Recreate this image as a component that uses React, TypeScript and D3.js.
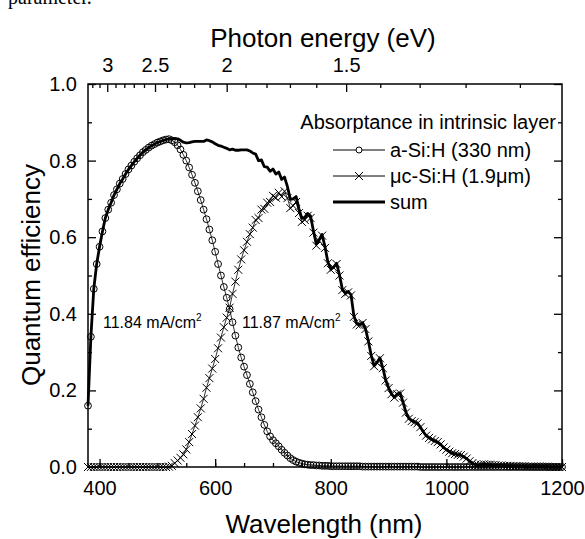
import React, { useEffect, useRef } from 'react';
import * as d3 from 'd3';

// wavelength grid of the measurement (nm)
const wavelengths = d3.range(380, 1201, 5);

// absorptance in the intrinsic layer, a-Si:H (330 nm)
const aSiQE = [
  0.16, 0.34, 0.465, 0.53, 0.575, 0.615, 0.65, 0.672, 0.69, 0.71,
  0.725, 0.74, 0.752, 0.765, 0.777, 0.787, 0.797, 0.806, 0.814, 0.822,
  0.828, 0.834, 0.839, 0.843, 0.847, 0.85, 0.853, 0.855, 0.856, 0.853,
  0.848, 0.84, 0.829, 0.815, 0.8, 0.782, 0.763, 0.742, 0.72, 0.697,
  0.672, 0.647, 0.62, 0.592, 0.562, 0.53, 0.5, 0.47, 0.442, 0.412,
  0.378, 0.343, 0.312, 0.286, 0.262, 0.24, 0.217, 0.195, 0.172, 0.15,
  0.13, 0.11, 0.093, 0.08, 0.07, 0.062, 0.054, 0.045, 0.037, 0.03,
  0.023, 0.018, 0.014, 0.011, 0.009, 0.007, 0.006, 0.005, 0.005, 0.004,
  0.004, 0.003, 0.003, 0.003, 0.002, 0.002, 0.002, 0.002, 0.002, 0.002,
  0.002, 0.002, 0.002, 0.002, 0.002, 0.001, 0.001, 0.001, 0.001, 0.001,
  0.001, 0.001, 0.001, 0.001, 0.001, 0.001, 0.001, 0.001, 0.001, 0.001,
  0.001, 0.001, 0.001, 0.001, 0.001, 0, 0, 0, 0, 0,
  0, 0, 0, 0, 0, 0, 0, 0, 0, 0,
  0, 0, 0, 0, 0, 0, 0, 0, 0, 0,
  0, 0, 0, 0, 0, 0, 0, 0, 0, 0,
  0, 0, 0, 0, 0, 0, 0, 0, 0, 0,
  0, 0, 0, 0, 0,
];

// absorptance in the intrinsic layer, uc-Si:H (1.9 um)
const ucSiQE = [
  0, 0, 0, 0, 0, 0, 0, 0, 0, 0,
  0, 0, 0, 0, 0, 0, 0, 0, 0, 0,
  0, 0, 0, 0, 0, 0, 0, 0, 0.001, 0.003,
  0.01, 0.017, 0.024, 0.033, 0.046, 0.065, 0.086, 0.108, 0.13, 0.153,
  0.178, 0.207, 0.232, 0.257, 0.282, 0.31, 0.338, 0.365, 0.39, 0.416,
  0.452, 0.484, 0.515, 0.542, 0.566, 0.588, 0.608, 0.625, 0.645, 0.65,
  0.672, 0.674, 0.69, 0.692, 0.708, 0.703, 0.716, 0.706, 0.72, 0.702,
  0.676, 0.682, 0.692, 0.663, 0.64, 0.645, 0.656, 0.65, 0.612, 0.578,
  0.59, 0.604, 0.572, 0.532, 0.515, 0.52, 0.53, 0.5, 0.462, 0.452,
  0.456, 0.448, 0.392, 0.372, 0.37, 0.376, 0.36, 0.328, 0.29, 0.263,
  0.272, 0.284, 0.258, 0.226, 0.206, 0.19, 0.181, 0.19, 0.192, 0.168,
  0.142, 0.126, 0.12, 0.117, 0.114, 0.104, 0.092, 0.082, 0.076, 0.072,
  0.068, 0.065, 0.059, 0.051, 0.045, 0.04, 0.036, 0.034, 0.032, 0.031,
  0.027, 0.022, 0.015, 0.01, 0.006, 0.005, 0.006, 0.007, 0.006, 0.006,
  0.005, 0.005, 0.004, 0.004, 0.003, 0.003, 0.003, 0.002, 0.002, 0.002,
  0.002, 0.002, 0.001, 0.001, 0.001, 0.001, 0.001, 0.001, 0.001, 0.001,
  0, 0, 0, 0, 0,
];

// the sum curve is the two layers added
const sumQE = aSiQE.map((v, i) => v + ucSiQE[i]);

const wlLabels = [400, 600, 800, 1000, 1200];
const qeLabels = [0, 0.2, 0.4, 0.6, 0.8, 1.0];
const evLabels = [3, 2.5, 2, 1.5];
const evMinor = [3.2, 3.1, 2.9, 2.8, 2.7, 2.6, 2.4, 2.3, 2.2, 2.1, 1.9, 1.8, 1.7, 1.6, 1.4, 1.3, 1.2, 1.1];

const legendTitle = 'Absorptance in intrinsic layer';
const seriesNames = ['a-Si:H (330 nm)', 'μc-Si:H (1.9μm)', 'sum'];
const currents = ['11.84 mA/cm', '11.87 mA/cm'];

const FONT = '"Liberation Sans", Arial, sans-serif';

function QEChart() {
  const ref = useRef<SVGSVGElement>(null);

  function drawChart() {
    const svg = d3.select(ref.current);
    svg.selectAll('*').remove();

    const margin = { top: 84, right: 23, bottom: 72, left: 88 },
      W = 585, H = 539,
      width = W - margin.left - margin.right,
      height = H - margin.top - margin.bottom;

    // stray text from the page above the figure
    svg.append('text')
      .attr('x', 8).attr('y', 4)
      .style('font-family', '"Liberation Serif", "Times New Roman", serif')
      .style('font-size', '20px')
      .text('parameter.');

    const g = svg.append('g').attr('transform', `translate(${margin.left},${margin.top})`);

    const x = d3.scaleLinear().domain([380, 1200]).range([0, width]);
    const y = d3.scaleLinear().domain([0, 1]).range([height, 0]);

    const styleAxis = (sel: any) => {
      sel.select('.domain').remove();
      sel.selectAll('line').attr('stroke', '#000').attr('stroke-width', 1.3);
      sel.selectAll('text').style('font-family', FONT).style('font-size', '20px').attr('fill', '#000');
    };

    // bottom axis
    g.append('g').attr('transform', `translate(0,${height})`)
      .call(d3.axisBottom(x).tickValues(d3.range(400, 1201, 50)).tickSize(-4).tickFormat(() => ''))
      .call(styleAxis);
    g.append('g').attr('transform', `translate(0,${height})`)
      .call(d3.axisBottom(x).tickValues(wlLabels).tickSize(-8).tickPadding(14).tickFormat(d3.format('d')))
      .call(styleAxis);

    // left + right axes
    const yMinor = d3.range(0.1, 1, 0.2);
    g.append('g')
      .call(d3.axisLeft(y).tickValues(yMinor).tickSize(-4).tickFormat(() => ''))
      .call(styleAxis);
    g.append('g')
      .call(d3.axisLeft(y).tickValues(qeLabels).tickSize(-8).tickPadding(11).tickFormat(d3.format('.1f')))
      .call(styleAxis);
    g.append('g').attr('transform', `translate(${width},0)`)
      .call(d3.axisRight(y).tickValues(yMinor).tickSize(-4).tickFormat(() => ''))
      .call(styleAxis);
    g.append('g').attr('transform', `translate(${width},0)`)
      .call(d3.axisRight(y).tickValues(qeLabels).tickSize(-8).tickFormat(() => ''))
      .call(styleAxis);

    // top axis in photon energy
    const ev = d3.scaleLinear().domain([380, 1200]).range([0, width]);
    g.append('g')
      .call(d3.axisTop(ev).tickValues(evMinor.map(e => 1239.84 / e)).tickSize(-4).tickFormat(() => ''))
      .call(styleAxis);
    g.append('g')
      .call(d3.axisTop(ev).tickValues(evLabels.map(e => 1239.84 / e)).tickSize(-8).tickPadding(12)
        .tickFormat((d: any) => String(+(1239.84 / d).toFixed(1))))
      .call(styleAxis);

    // frame
    g.append('rect')
      .attr('width', width).attr('height', height)
      .attr('fill', 'none').attr('stroke', '#000').attr('stroke-width', 1.5);

    const line = d3.line<number>()
      .x((d, i) => x(wavelengths[i]))
      .y(d => y(d));

    // sum
    g.append('path').datum(sumQE)
      .attr('d', line).attr('fill', 'none')
      .attr('stroke', '#000').attr('stroke-width', 2.8).attr('stroke-linejoin', 'round');

    // a-Si:H
    g.append('path').datum(aSiQE)
      .attr('d', line).attr('fill', 'none')
      .attr('stroke', '#000').attr('stroke-width', 0.8);
    g.append('g').selectAll('circle').data(aSiQE).join('circle')
      .attr('cx', (d, i) => x(wavelengths[i]))
      .attr('cy', d => y(d))
      .attr('r', 3.4)
      .attr('fill', 'none').attr('stroke', '#000').attr('stroke-width', 1);

    // uc-Si:H
    g.append('path').datum(ucSiQE)
      .attr('d', line).attr('fill', 'none')
      .attr('stroke', '#000').attr('stroke-width', 0.8);
    const cross = 'M-4,-4L4,4M-4,4L4,-4';
    g.append('g').selectAll('path').data(ucSiQE).join('path')
      .attr('transform', (d, i) => `translate(${x(wavelengths[i])},${y(d)})`)
      .attr('d', cross)
      .attr('stroke', '#000').attr('stroke-width', 1);

    // legend
    const lg = svg.append('g').style('font-family', FONT).style('font-size', '20px');
    lg.append('text').attr('x', 556).attr('y', 129).attr('text-anchor', 'end').text(legendTitle);
    const rows = [157, 183, 209];
    rows.forEach((ry, i) => {
      const cy = ry - 7;
      lg.append('line').attr('x1', 333).attr('x2', 385).attr('y1', cy).attr('y2', cy)
        .attr('stroke', '#000').attr('stroke-width', i === 2 ? 3 : 1);
      if (i === 0) {
        lg.append('circle').attr('cx', 359).attr('cy', cy).attr('r', 3)
          .attr('fill', '#fff').attr('stroke', '#000').attr('stroke-width', 1);
      }
      if (i === 1) {
        lg.append('path').attr('transform', `translate(359,${cy})`).attr('d', cross)
          .attr('stroke', '#000').attr('stroke-width', 1);
      }
      lg.append('text').attr('x', 390).attr('y', ry).text(seriesNames[i]);
    });

    // integrated currents
    const ann = svg.append('g').style('font-family', FONT).style('font-size', '16px');
    [[103, 328], [242, 328]].forEach(([ax, ay], i) => {
      const t = ann.append('text').attr('x', ax).attr('y', ay);
      t.append('tspan').text(currents[i]);
      t.append('tspan').attr('dy', -7).style('font-size', '10px').text('2');
    });

    // axis titles
    const titles = svg.append('g').style('font-family', FONT).style('font-size', '26px');
    titles.append('text').attr('x', 323).attr('y', 47).attr('text-anchor', 'middle').text('Photon energy (eV)');
    titles.append('text').attr('x', 324).attr('y', 533).attr('text-anchor', 'middle').text('Wavelength (nm)');
    titles.append('text').attr('transform', 'translate(40,275) rotate(-90)')
      .attr('text-anchor', 'middle').text('Quantum efficiency');
  }

  useEffect(() => {
    drawChart();
  }, []);

  return (
    <svg ref={ref} width={585} height={539}
      style={{ position: 'absolute', left: 0, top: 0, background: '#fff' }} />
  );
}

export default function App() {
  return <QEChart />;
}
